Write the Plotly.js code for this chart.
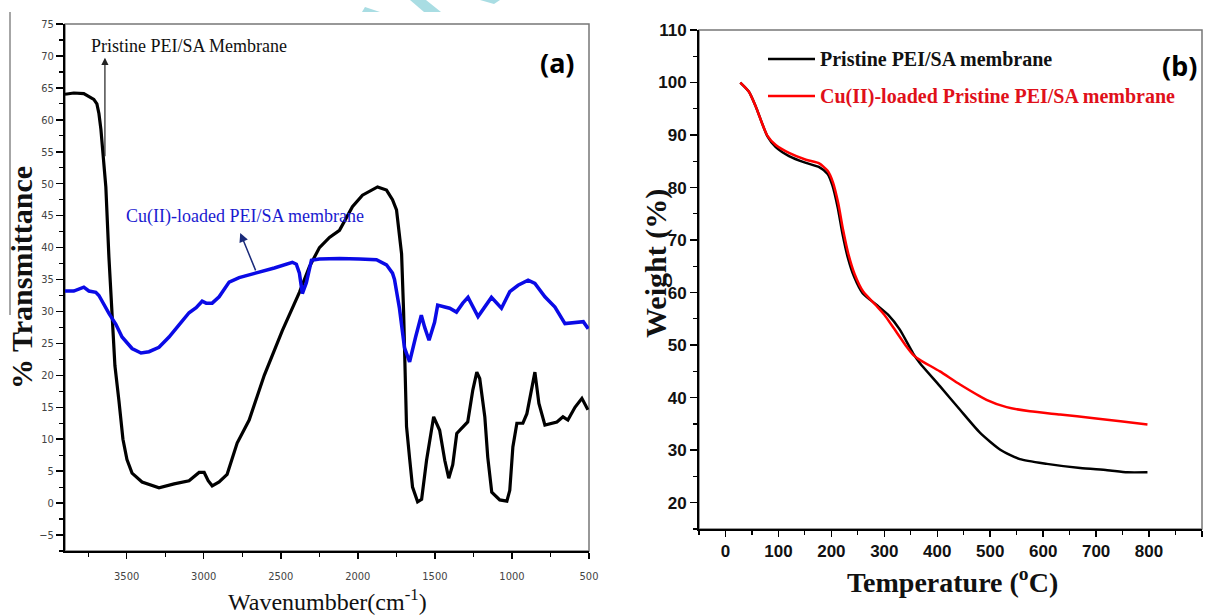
<!DOCTYPE html>
<html>
<head>
<meta charset="utf-8">
<script src="https://cdn.plot.ly/plotly-3.0.1.min.js"></script>
<style>html,body{margin:0;padding:0;background:#fff;}#chart{width:1216px;height:615px;}</style>
</head>
<body>
<div id="chart"></div>
<script>
// ---- Panel (a): FTIR ----
const ftirPristineWn = [3900,3843,3778,3745,3713,3693,3680,3667,3654,3635,3615,3596,3576,3550,3524,3498,3465,3400,3290,3192,3095,3030,2997,2971,2945,2900,2848,2783,2705,2607,2490,2379,2314,2249,2184,2119,2035,1970,1872,1814,1775,1749,1716,1703,1684,1664,1645,1612,1586,1554,1521,1508,1469,1436,1410,1384,1358,1326,1287,1254,1228,1209,1176,1157,1131,1079,1033,1014,994,968,929,903,864,851,825,786,708,669,637,591,546,507];
const ftirPristineT  = [64.0,64.2,64.1,63.6,63.2,62.5,61,58.5,55,49.5,38.5,30,21.5,16,10,6.8,4.7,3.3,2.4,3,3.5,4.8,4.8,3.5,2.7,3.3,4.5,9.4,13,20,27,33,37,40,41.6,42.7,46.4,48.2,49.5,49,47.5,45.9,39,30,12,7,2.5,0.2,0.6,6.7,12,13.5,11.4,6.7,3.9,6,10.9,11.7,12.7,17.7,20.5,19.5,13.5,7.2,1.7,0.5,0.3,2,8.8,12.5,12.5,14,19.3,20.5,15.6,12.2,12.7,13.5,13,15,16.4,14.6];
const ftirCuWn = [3900,3843,3778,3745,3700,3680,3615,3570,3530,3465,3407,3355,3290,3225,3160,3095,3049,3010,2984,2945,2900,2835,2770,2659,2542,2425,2399,2379,2360,2334,2301,2249,2119,1989,1879,1814,1775,1762,1730,1697,1664,1625,1588,1566,1538,1502,1482,1436,1404,1360,1319,1285,1220,1133,1068,1014,960,895,851,786,721,656,591,537,505];
const ftirCuT  = [33.2,33.2,33.8,33.2,33,32.5,29.7,28,26,24.2,23.5,23.7,24.4,26,27.9,29.8,30.6,31.6,31.3,31.3,32.3,34.6,35.3,36,36.8,37.7,37.4,36,32.8,34.5,38,38.2,38.3,38.2,38.1,37.3,36,35,30.5,24.3,22.1,26,29.4,27.5,25.5,28.3,31,30.7,30.5,29.9,31.3,32.2,29.2,32.2,30.5,33.1,34.1,34.9,34.4,32.3,30.7,28.1,28.2,28.4,27.3];
const ftirXTicks = [3500,3000,2500,2000,1500,1000,500];

// ---- Panel (b): TGA ----
const tgaPristineTemp = [28,44,57,70,79,95,120,152,177,193,202,212,221,231,243,259,285,307,329,354,367,405,443,481,519,556,607,670,721,759,797];
const tgaPristineW    = [100,98.3,95.5,92,89.8,87.7,86.0,84.7,83.9,82.6,80.4,76.2,71.2,66.7,63.0,59.9,57.7,55.8,53,48.5,46.6,42.2,37.7,33.3,30.1,28.3,27.4,26.6,26.2,25.8,25.8];
const tgaCuTemp = [28,44,57,70,79,95,120,152,177,193,203,213,222,232,244,260,285,300,316,340,356,367,405,443,493,531,575,632,696,746,797];
const tgaCuW    = [100,98.3,95.5,92,89.9,88.1,86.6,85.3,84.6,83.2,81,77,72,67.4,63.5,60.2,57.5,55.8,53.5,50,48,47.2,45.0,42.5,39.6,38.2,37.4,36.8,36.1,35.5,34.9];

const names = {
  a1: 'Pristine PEI/SA Membrane',
  a2: 'Cu(II)-loaded PEI/SA membrane',
  b1: 'Pristine PEI/SA membrane',
  b2: 'Cu(II)-loaded Pristine PEI/SA membrane'
};

const W = 1216, H = 615;
const px = v => v / W;
const py = v => 1 - v / H;
const poly = pts => 'M ' + pts.map(p => px(p[0]).toFixed(5) + ',' + py(p[1]).toFixed(5)).join(' L ') + ' Z';

const traces = [
  {x: ftirPristineWn, y: ftirPristineT, xaxis:'x', yaxis:'y', mode:'lines', name:names.a1, showlegend:false,
   line:{color:'#000000', width:3.2}},
  {x: ftirCuWn, y: ftirCuT, xaxis:'x', yaxis:'y', mode:'lines', name:names.a2, showlegend:false,
   line:{color:'#0a0ae6', width:3.5}},
  {x: tgaPristineTemp, y: tgaPristineW, xaxis:'x2', yaxis:'y2', mode:'lines', name:names.b1, showlegend:false,
   line:{color:'#000000', width:2.5, shape:'spline', smoothing:0.6}},
  {x: tgaCuTemp, y: tgaCuW, xaxis:'x2', yaxis:'y2', mode:'lines', name:names.b2, showlegend:false,
   line:{color:'#ff0000', width:2.5, shape:'spline', smoothing:0.6}}
];

const tickFontA = {family:"'Liberation Sans Narrow','DejaVu Sans Condensed','Liberation Sans',sans-serif", size:11, color:'#444'};
const tickFontB = {family:"'Liberation Sans','Arial',sans-serif", size:17, color:'#111', weight:'bold'};

const layout = {
  width: W, height: H,
  margin: {l:0, r:0, t:0, b:0},
  paper_bgcolor: '#ffffff', plot_bgcolor: '#ffffff',
  showlegend: false,
  xaxis: {domain:[px(65), px(589)], range:[3900, 500], anchor:'y', showgrid:false, zeroline:false,
    showline:true, linecolor:'#000', linewidth:2, ticks:'outside', ticklen:6, tickwidth:1.5, tickcolor:'#000',
    tickvals: ftirXTicks, tickfont: tickFontA, ticklabelstandoff:8,
    minor:{dtick:250, tick0:500, ticks:'outside', ticklen:4, tickcolor:'#000', tickwidth:1.2}},
  yaxis: {domain:[py(551), py(24)], range:[-7.5, 75], anchor:'x', showgrid:false, zeroline:false,
    showline:true, linecolor:'#000', linewidth:2, ticks:'outside', ticklen:7, tickwidth:1.5, tickcolor:'#000',
    dtick:5, tick0:0, tickfont: tickFontA,
    minor:{dtick:2.5, tick0:0, ticks:'outside', ticklen:4, tickcolor:'#000', tickwidth:1.2}},
  xaxis2: {domain:[px(699), px(1202)], range:[-50, 900], anchor:'y2', showgrid:false, zeroline:false,
    showline:true, linecolor:'#000', linewidth:2, ticks:'outside', ticklen:6, tickwidth:1.5, tickcolor:'#000',
    dtick:100, tick0:0, tickfont: tickFontB,
    minor:{dtick:50, tick0:0, ticks:'outside', ticklen:4, tickcolor:'#000', tickwidth:1.2}},
  yaxis2: {domain:[py(529), py(30)], range:[15, 110], anchor:'x2', showgrid:false, zeroline:false,
    showline:true, linecolor:'#000', linewidth:2, ticks:'outside', ticklen:7, tickwidth:1.5, tickcolor:'#000',
    dtick:10, tick0:0, tickfont: tickFontB,
    minor:{dtick:5, tick0:0, ticks:'outside', ticklen:4, tickcolor:'#000', tickwidth:1.2}},
  shapes: [
    {type:'rect', xref:'x domain', yref:'y domain', x0:0, x1:1, y0:0, y1:1, line:{color:'#777', width:1.5}, layer:'below'},
    {type:'rect', xref:'x2 domain', yref:'y2 domain', x0:0, x1:1, y0:0, y1:1, line:{color:'#777', width:1.5}, layer:'below'},
    {type:'line', xref:'paper', yref:'paper', x0:px(10), x1:px(10), y0:py(12), y1:py(315), line:{color:'#888', width:1.5}},
    {type:'line', xref:'paper', yref:'paper', x0:px(768), x1:px(815), y0:py(59), y1:py(59), line:{color:'#000', width:2.5}},
    {type:'line', xref:'paper', yref:'paper', x0:px(768), x1:px(815), y0:py(96), y1:py(96), line:{color:'#ff0000', width:2.5}},
    // faint cyan watermark fragments at the top edge
    {type:'path', xref:'paper', yref:'paper', path: poly([[365,7],[380,12],[362,12]]), fillcolor:'#a9dde3', line:{width:0}},
    {type:'path', xref:'paper', yref:'paper', path: poly([[410,0],[426,0],[441,12],[424,12]]), fillcolor:'#a9dde3', line:{width:0}},
    {type:'path', xref:'paper', yref:'paper', path: poly([[480,0],[500,0],[494,4]]), fillcolor:'#a9dde3', line:{width:0}}
  ],
  annotations: [
    // axis titles (a)
    {xref:'paper', yref:'paper', x:px(327), y:py(600), xanchor:'center', yanchor:'middle', showarrow:false,
     text:'Wavenumbber(cm<sup>-1</sup>)', font:{family:"'Liberation Serif',serif", size:24, color:'#111'}},
    {xref:'paper', yref:'paper', x:px(21), y:py(278), xanchor:'center', yanchor:'middle', showarrow:false, textangle:-90,
     text:'<b>% Transmittance</b>', font:{family:"'Liberation Serif',serif", size:30, color:'#111'}},
    // axis titles (b)
    {xref:'paper', yref:'paper', x:px(952), y:py(580), xanchor:'center', yanchor:'middle', showarrow:false,
     text:'<b>Temperature (<sup>o</sup>C)</b>', font:{family:"'Liberation Serif',serif", size:28, color:'#111'}},
    {xref:'paper', yref:'paper', x:px(656), y:py(264), xanchor:'center', yanchor:'middle', showarrow:false, textangle:-90,
     text:'<b>Weight (%)</b>', font:{family:"'Liberation Serif',serif", size:30, color:'#111'}},
    // panel labels
    {xref:'paper', yref:'paper', x:px(557), y:py(63), xanchor:'center', yanchor:'middle', showarrow:false,
     text:'<b>(a)</b>', font:{family:"'Noto Sans','Open Sans',sans-serif", size:27, color:'#000'}},
    {xref:'paper', yref:'paper', x:px(1179), y:py(65), xanchor:'center', yanchor:'middle', showarrow:false,
     text:'<b>(b)</b>', font:{family:"'Noto Sans','Open Sans',sans-serif", size:27, color:'#000'}},
    // (a) curve labels
    {xref:'paper', yref:'paper', x:px(189), y:py(46), xanchor:'center', yanchor:'middle', showarrow:false,
     text:names.a1, font:{family:"'Liberation Serif',serif", size:18, color:'#111'}},
    {xref:'paper', yref:'paper', x:px(245), y:py(216), xanchor:'center', yanchor:'middle', showarrow:false,
     text:names.a2, font:{family:"'Liberation Serif',serif", size:18, color:'#1a1ad0'}},
    // (a) arrows
    {xref:'x', yref:'y', x:3641, y:69.7, ax:0, ay:100, text:'', showarrow:true, arrowhead:2, arrowsize:1.2, arrowwidth:1.2, arrowcolor:'#222'},
    {xref:'x', yref:'y', x:2763, y:42.3, ax:16, ay:39, text:'', showarrow:true, arrowhead:2, arrowsize:1.2, arrowwidth:1.5, arrowcolor:'#1a2a7a'},
    // (b) legend texts
    {xref:'paper', yref:'paper', x:px(818), y:py(59), xanchor:'left', yanchor:'middle', showarrow:false,
     text:'<b>' + names.b1 + '</b>', font:{family:"'Liberation Serif',serif", size:20, color:'#111'}},
    {xref:'paper', yref:'paper', x:px(818), y:py(96), xanchor:'left', yanchor:'middle', showarrow:false,
     text:'<b>' + names.b2 + '</b>', font:{family:"'Liberation Serif',serif", size:20, color:'#e0101a'}}
  ]
};

Plotly.newPlot('chart', traces, layout, {staticPlot:true, displayModeBar:false});
</script>
</body>
</html>
